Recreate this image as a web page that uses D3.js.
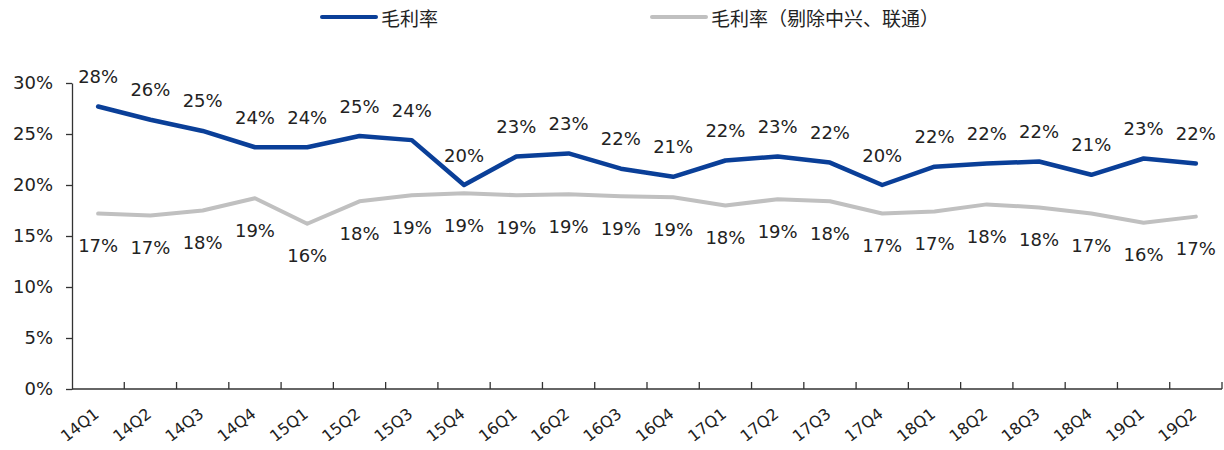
<!DOCTYPE html>
<html>
<head>
<meta charset="utf-8">
<script src="https://cdn.jsdelivr.net/npm/d3@7"></script>
<style>
  body { margin: 0; background: #fff; }
  svg { display: block; }
</style>
</head>
<body>
<div id="chart"></div>
<script>
// quarters
var quarters = ["14Q1", "14Q2", "14Q3", "14Q4", "15Q1", "15Q2", "15Q3", "15Q4",
    "16Q1", "16Q2", "16Q3", "16Q4", "17Q1", "17Q2", "17Q3", "17Q4",
    "18Q1", "18Q2", "18Q3", "18Q4", "19Q1", "19Q2"];

// 毛利率
var grossMargin = [0.277, 0.264, 0.253, 0.237, 0.237, 0.248, 0.244, 0.200,
    0.228, 0.231, 0.216, 0.208, 0.224, 0.228, 0.222, 0.200,
    0.218, 0.221, 0.223, 0.210, 0.226, 0.221];

// 毛利率（剔除中兴、联通）
var grossMarginEx = [0.172, 0.170, 0.175, 0.187, 0.162, 0.184, 0.190, 0.192,
    0.190, 0.191, 0.189, 0.188, 0.180, 0.186, 0.184, 0.172,
    0.174, 0.181, 0.178, 0.172, 0.163, 0.169];

var yTicks = [0, 0.05, 0.10, 0.15, 0.20, 0.25, 0.30];
var seriesNames = ["毛利率", "毛利率（剔除中兴、联通）"];

var width = 1224, height = 450;
var plotLeft = 72, plotRight = 1222, plotTop = 83, plotBottom = 389;
var blue = "#0a3f98", gray = "#c0c0c0";
var numFont = "'DejaVu Sans', Verdana, sans-serif";

var svg = d3.select("#chart").append("svg")
    .attr("width", width)
    .attr("height", height);

var x = d3.scaleBand()
    .domain(quarters)
    .range([plotLeft, plotRight]);

var y = d3.scaleLinear()
    .domain([0, 0.3])
    .range([plotBottom, plotTop]);

// y axis
var yAxis = d3.axisLeft(y)
    .tickValues(yTicks)
    .tickSize(6)
    .tickSizeOuter(0)
    .tickFormat(d3.format(".0%"));

var yg = svg.append("g")
    .attr("transform", "translate(" + plotLeft + ",0)")
    .call(yAxis);
yg.select(".domain").attr("stroke", "#333").attr("stroke-width", 1.3);
yg.selectAll(".tick line").attr("stroke", "#333").attr("stroke-width", 1.3);
yg.selectAll(".tick text")
    .attr("x", -19)
    .style("font-family", numFont)
    .style("font-size", "18px")
    .attr("fill", "#222");

// x axis: ticks between categories, pointing inward
var xg = svg.append("g").attr("class", "x-axis");
xg.append("line")
    .attr("x1", plotLeft).attr("x2", plotRight)
    .attr("y1", plotBottom).attr("y2", plotBottom)
    .attr("stroke", "#333").attr("stroke-width", 1.3);

xg.selectAll("line.tick")
    .data(quarters)
    .enter()
    .append("line")
    .attr("class", "tick")
    .attr("x1", function (d) { return x(d) + x.bandwidth(); })
    .attr("x2", function (d) { return x(d) + x.bandwidth(); })
    .attr("y1", plotBottom)
    .attr("y2", plotBottom - 7)
    .attr("stroke", "#333").attr("stroke-width", 1.3);

xg.selectAll("text")
    .data(quarters)
    .enter()
    .append("text")
    .attr("text-anchor", "end")
    .attr("transform", function (d) {
        var cx = x(d) + x.bandwidth() / 2 + 2;
        return "translate(" + cx + "," + (plotBottom + 27) + ") rotate(-38)";
    })
    .style("font-family", numFont)
    .style("font-size", "16px")
    .attr("fill", "#222")
    .text(function (d) { return d; });

// lines
var line = d3.line()
    .x(function (d, i) { return x(quarters[i]) + x.bandwidth() / 2; })
    .y(function (d) { return y(d); });

svg.append("path")
    .datum(grossMarginEx)
    .attr("fill", "none")
    .attr("stroke", gray)
    .attr("stroke-width", 4)
    .attr("stroke-linejoin", "round")
    .attr("stroke-linecap", "round")
    .attr("d", line);

svg.append("path")
    .datum(grossMargin)
    .attr("fill", "none")
    .attr("stroke", blue)
    .attr("stroke-width", 4.5)
    .attr("stroke-linejoin", "round")
    .attr("stroke-linecap", "round")
    .attr("d", line);

// data labels
var pct = d3.format(".0%");

svg.append("g").selectAll("text")
    .data(grossMargin)
    .enter()
    .append("text")
    .attr("x", function (d, i) { return x(quarters[i]) + x.bandwidth() / 2; })
    .attr("y", function (d) { return y(d) - 30; })
    .attr("text-anchor", "middle")
    .attr("dominant-baseline", "central")
    .style("font-family", numFont)
    .style("font-size", "18px")
    .attr("fill", "#222")
    .text(function (d) { return pct(d); });

svg.append("g").selectAll("text")
    .data(grossMarginEx)
    .enter()
    .append("text")
    .attr("x", function (d, i) { return x(quarters[i]) + x.bandwidth() / 2; })
    .attr("y", function (d) { return y(d) + 32; })
    .attr("text-anchor", "middle")
    .attr("dominant-baseline", "central")
    .style("font-family", numFont)
    .style("font-size", "18px")
    .attr("fill", "#222")
    .text(function (d) { return pct(d); });

// legend
var legend = [
    { name: seriesNames[0], color: blue, x: 322 },
    { name: seriesNames[1], color: gray, x: 652 }
];
var lg = svg.append("g").selectAll("g")
    .data(legend)
    .enter()
    .append("g")
    .attr("transform", function (d) { return "translate(" + d.x + ",17)"; });

lg.append("line")
    .attr("x1", 0).attr("x2", 54)
    .attr("y1", 0).attr("y2", 0)
    .attr("stroke", function (d) { return d.color; })
    .attr("stroke-width", 4)
    .attr("stroke-linecap", "round");

lg.append("text")
    .attr("x", 59)
    .attr("y", 0)
    .attr("dominant-baseline", "central")
    .style("font-family", "'Noto Sans CJK SC', sans-serif")
    .style("font-size", "19px")
    .attr("fill", "#222")
    .text(function (d) { return d.name; });
</script>
</body>
</html>
